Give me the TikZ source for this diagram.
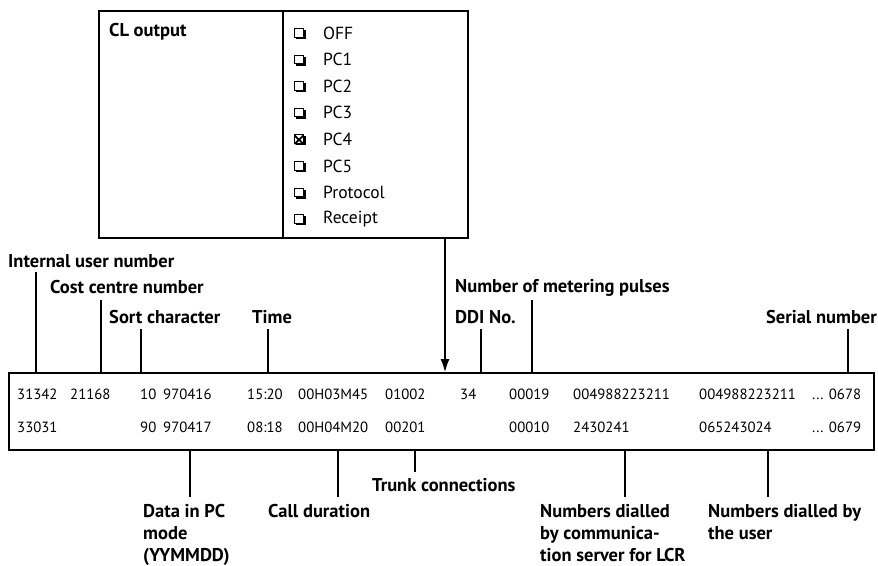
\documentclass[tikz,border=0pt]{standalone}
\usepackage{fontspec}
\setmainfont{PT Sans}
\usetikzlibrary{arrows.meta}
\begin{document}
\begin{tikzpicture}[x=1pt,y=-1pt,
  lbl/.style={font=\bfseries\fontsize{18.5}{22}\selectfont, anchor=west, inner sep=0pt},
  cell/.style={font=\fontsize{14.8}{18}\selectfont, anchor=west, inner sep=0pt},
  item/.style={font=\fontsize{17.5}{20}\selectfont, anchor=west, inner sep=0pt},
  ln/.style={line width=1.2pt},
  frame/.style={draw, line width=1.5pt}]
\useasboundingbox (0,0) rectangle (878,565);
% top box
\node[frame, minimum width=369pt, minimum height=227pt, anchor=north west, inner sep=0pt] (cl) at (98,10) {};
\draw[line width=1.2pt] (283,10) -- (283,237);
\node[lbl] (clt) at (109,32) {CL output};
\foreach \t [count=\i] in {OFF,PC1,PC2,PC3,PC4,PC5,Protocol,Receipt}{
  \pgfmathsetmacro{\yy}{33+(\i-1)*26.6}
  \node[item] (it\i) at (323,\yy) {\t};
  \fill (296,\yy-3) rectangle (306,\yy+6);
  \fill[white] (294.5,\yy-4.5) rectangle (303.5,\yy+4);
  \draw[line width=0.9pt] (294.5,\yy-4.5) rectangle (303.5,\yy+4);
}
\draw[line width=1.8pt] (294.5,140-4.5) -- (303.5,140+4) (303.5,140-4.5) -- (294.5,140+4);
% table
\node[frame, minimum width=865pt, minimum height=77pt, anchor=north west, inner sep=0pt] (tab) at (8,372) {};
\coordinate (clo) at (445,237);
\coordinate (tin) at (445,372);
\draw[ln, -{Latex[length=13pt,width=9pt]}] (clo) -- (tin);
% rows
\foreach \x/\t in {17/31342,70/21168,140/10,163/970416,247/15:20,298/00H03M45,385/01002,460/34,509/00019,573/004988223211,699/004988223211,812/{... 0678}}{
  \node[cell] at (\x,394) {\t};
}
\foreach \x/\t in {17/33031,140/90,163/970417,247/08:18,298/00H04M20,385/00201,509/00010,573/2430241,699/065243024,812/{... 0679}}{
  \node[cell] at (\x,427) {\t};
}
% top labels
\node[lbl] (iun) at (8,261) {Internal user number};
\node[lbl] (ccn) at (50,287) {Cost centre number};
\node[lbl] (sc) at (109,317) {Sort character};
\node[lbl] (tm) at (252,317) {Time};
\node[lbl] (nmp) at (455,288) {Number of metering pulses};
\node[lbl] (ddi) at (455,317) {DDI No.};
\node[lbl, anchor=east] (sn) at (877,317) {Serial number};
\coordinate (a1) at (36,272); \coordinate (b1) at (36,372);
\coordinate (a2) at (101,300); \coordinate (b2) at (101,372);
\coordinate (a3) at (141,329); \coordinate (b3) at (141,372);
\coordinate (a4) at (268,329); \coordinate (b4) at (268,372);
\coordinate (a5) at (532,300); \coordinate (b5) at (532,372);
\coordinate (a6) at (481,329); \coordinate (b6) at (481,372);
\coordinate (a7) at (848,329); \coordinate (b7) at (848,372);
\foreach \i in {1,...,7}{\draw[ln] (a\i) -- (b\i);}
% bottom labels
\node[lbl, anchor=north west, align=left] (dpc) at (143,504) {Data in PC\\mode\\(YYMMDD)};
\node[lbl, anchor=north west] (cd) at (268,504) {Call duration};
\node[lbl] (tc) at (372,485) {Trunk connections};
\node[lbl, anchor=north west, align=left] (ndc) at (540,504) {Numbers dialled\\by communica-\\tion server for LCR};
\node[lbl, anchor=north west, align=left] (ndu) at (708,504) {Numbers dialled by\\the user};
\coordinate (c1) at (190,449); \coordinate (d1) at (190,497);
\coordinate (c2) at (338,449); \coordinate (d2) at (338,497);
\coordinate (c3) at (415,449); \coordinate (d3) at (415,472);
\coordinate (c4) at (625,449); \coordinate (d4) at (625,497);
\coordinate (c5) at (768,449); \coordinate (d5) at (768,497);
\foreach \i in {1,...,5}{\draw[ln] (c\i) -- (d\i);}
\end{tikzpicture}
\end{document}
